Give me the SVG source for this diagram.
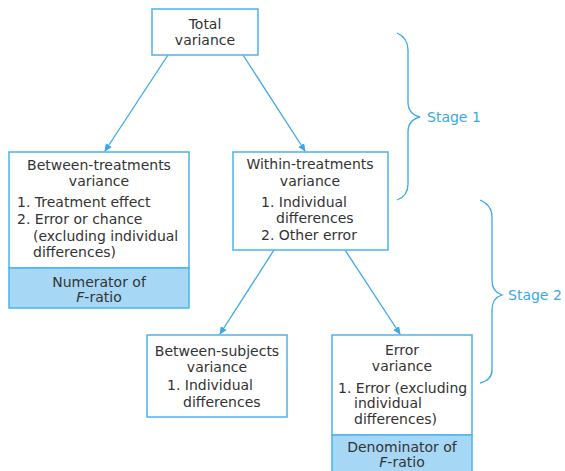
<svg xmlns="http://www.w3.org/2000/svg" width="565" height="471" viewBox="0 0 565 471">
<style>
.box{fill:#fff;stroke:#4db3ee;stroke-width:1.5}
.band{fill:#a6d7f5;stroke:#4db3ee;stroke-width:1.5}
text{font-family:"DejaVu Sans","Liberation Sans",Arial,sans-serif;font-size:14px;fill:#333}
.c{text-anchor:middle}
.stage{fill:#3aa8e6;font-size:14px}
.ln{stroke:#3aa8e6;stroke-width:1.3;fill:none}
</style>
<defs>
<marker id="ah" markerWidth="8" markerHeight="8" refX="7" refY="4" orient="auto" markerUnits="userSpaceOnUse">
<path d="M0,0.5 L8,4 L0,7.5 Z" fill="#3aa8e6"/>
</marker>
</defs>
<g id="connectors">
<line class="ln" x1="168" y1="55" x2="105" y2="151" marker-end="url(#ah)"/>
<line class="ln" x1="243" y1="55" x2="305" y2="151" marker-end="url(#ah)"/>
<line class="ln" x1="274" y1="250" x2="220" y2="334" marker-end="url(#ah)"/>
<line class="ln" x1="345" y1="250" x2="400" y2="334" marker-end="url(#ah)"/>
</g>
<g id="total">
<rect class="box" x="152" y="9" width="106" height="46"/>
<text class="c" x="205" y="29">Total</text>
<text class="c" x="205" y="45">variance</text>
</g>
<g id="between-treatments">
<rect class="box" x="9" y="152" width="180" height="116"/>
<rect class="band" x="9" y="268" width="180" height="40"/>
<text class="c" x="99" y="170">Between-treatments</text>
<text class="c" x="99" y="186">variance</text>
<text x="17" y="207">1. Treatment effect</text>
<text x="17" y="224">2. Error or chance</text>
<text x="33" y="241">(excluding individual</text>
<text x="33" y="257">differences)</text>
<text class="c" x="99" y="287">Numerator of</text>
<text class="c" x="99" y="302"><tspan font-style="italic">F</tspan>-ratio</text>
</g>
<g id="within-treatments">
<rect class="box" x="233" y="152" width="155" height="98"/>
<text class="c" x="310" y="169">Within-treatments</text>
<text class="c" x="310" y="186">variance</text>
<text x="261" y="207">1. Individual</text>
<text x="276" y="223">differences</text>
<text x="261" y="240">2. Other error</text>
</g>
<g id="between-subjects">
<rect class="box" x="147" y="335" width="140" height="82"/>
<text class="c" x="217" y="356">Between-subjects</text>
<text class="c" x="217" y="372">variance</text>
<text x="167" y="390">1. Individual</text>
<text x="183" y="407">differences</text>
</g>
<g id="error">
<rect class="box" x="332" y="335" width="140" height="100"/>
<rect class="band" x="332" y="435" width="140" height="40"/>
<text class="c" x="402" y="355">Error</text>
<text class="c" x="402" y="371">variance</text>
<text x="338" y="393">1. Error (excluding</text>
<text x="354" y="408">individual</text>
<text x="354" y="424">differences)</text>
<text class="c" x="402" y="452">Denominator of</text>
<text class="c" x="402" y="467"><tspan font-style="italic">F</tspan>-ratio</text>
</g>
<g id="stage1">
<path class="ln" d="M397,33 Q408,38 408,50 L408,102 Q408,114 420,117 Q408,120 408,132 L408,184 Q408,196 397,200"/>
<text class="stage" x="427" y="122">Stage 1</text>
</g>
<g id="stage2">
<path class="ln" d="M480,200 Q492,205 492,217 L492,280 Q492,292 502,295 Q492,298 492,310 L492,370 Q492,380 480,383"/>
<text class="stage" x="508" y="300">Stage 2</text>
</g>
</svg>
